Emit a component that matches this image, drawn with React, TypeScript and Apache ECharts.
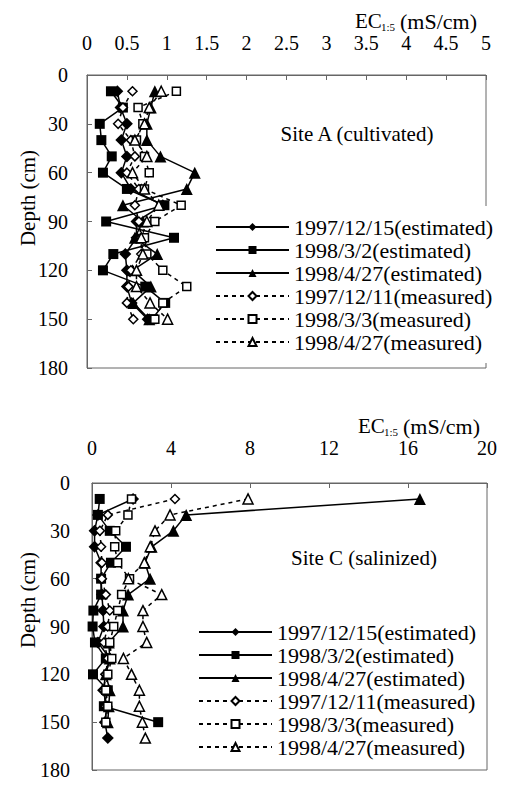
import React, { useEffect, useRef } from 'react';
import * as echarts from 'echarts';

const FONT = 'Liberation Serif';

const seriesNames = [
  '1997/12/15(estimated)',
  '1998/3/2(estimated)',
  '1998/4/27(estimated)',
  '1997/12/11(measured)',
  '1998/3/3(measured)',
  '1998/4/27(measured)',
];

// Site A (cultivated)
const depthsA = [10, 20, 30, 40, 50, 60, 70, 80, 90, 100, 110, 120, 130, 140, 150];
const aEst1215 = [0.38, 0.42, 0.5, 0.43, 0.5, 0.43, 0.55, 0.95, 0.62, 0.62, 0.48, 0.5, 0.5, 0.56, 0.76];
const aEst0302 = [0.3, 0.45, 0.16, 0.18, 0.31, 0.2, 0.5, 0.97, 0.24, 1.09, 0.33, 0.2, 0.73, 0.98, 0.81];
const aEst0427 = [0.85, 0.8, 0.75, 0.75, 0.92, 1.35, 1.25, 0.45, 0.7, 0.6, 0.88, 0.57, 0.8, 0.58, 0.78];
const aMea1211 = [0.57, 0.45, 0.39, 0.55, 0.6, 0.5, 0.65, 0.6, 0.65, 0.68, 0.68, 0.55, 0.52, 0.5, 0.58];
const aMea0303 = [1.12, 0.64, 0.7, 0.62, 0.72, 0.78, 0.72, 1.18, 0.85, 0.72, 0.75, 0.95, 1.25, 0.95, 0.85];
const aMea0427 = [0.93, 0.78, 0.72, 0.6, 0.75, 0.57, 0.72, 0.9, 0.75, 0.68, 0.7, 0.62, 0.62, 0.79, 1.01];

// Site C (salinized)
const depthsC = [10, 20, 30, 40, 50, 60, 70, 80, 90, 100, 110, 120, 130, 140, 150, 160];
const cEst1215 = [2.08, 0.3, 0.13, 0.13, 0.46, 0.46, 0.5, 0.56, 0.6, 0.3, 0.9, 0.7, 0.56, 0.75, 0.65, 0.8];
const cEst0302 = [0.39, 0.3, 0.9, 1.72, 0.96, 0.46, 0.46, 0.07, 0.03, 0.15, 0.7, 0.05, 0.8, 0.6, 3.35, null];
const cEst0427 = [16.6, 4.77, 4.12, 3.02, 2.68, 2.94, 1.83, 1.57, 1.57, 0.85, 0.9, 0.7, 0.9, 0.85, 0.8, null];
const cMea1211 = [4.2, 0.8, 0.4, 0.46, 0.5, 0.5, 0.7, 0.9, 0.8, 0.6, 0.8, 0.7, 0.6, 0.7, 0.7, null];
const cMea0303 = [2.0, 1.82, 1.2, 1.15, 1.3, 1.9, 1.5, 1.3, 1.1, 0.9, 1.0, 0.8, 0.7, 0.8, 0.7, null];
const cMea0427 = [7.9, 3.95, 3.19, 2.95, 2.65, 1.84, 3.53, 2.58, 2.58, 2.77, 1.59, 2.0, 2.4, 2.4, 2.55, 2.7];

const xMaxA = 5;
const xStepA = 0.5;
const xMaxC = 20;
const xStepC = 4;
const depthMax = 180;
const depthStep = 30;

const markerStyles = [
  { symbol: 'diamond', size: 12, hollow: false, dashed: false },
  { symbol: 'rect', size: 10, hollow: false, dashed: false },
  { symbol: 'triangle', size: 12, hollow: false, dashed: false },
  { symbol: 'diamond', size: 9, hollow: true, dashed: true },
  { symbol: 'rect', size: 8, hollow: true, dashed: true },
  { symbol: 'triangle', size: 10, hollow: true, dashed: true },
];

function makeSeries(values: (number | null)[][], depths: number[], gridIdx: number) {
  return values.map((vals, k) => {
    const st = markerStyles[k];
    const data: number[][] = [];
    depths.forEach((d, i) => {
      const v = vals[i];
      if (v !== null && v !== undefined) data.push([v, d]);
    });
    return {
      type: 'line',
      name: seriesNames[k],
      xAxisIndex: gridIdx,
      yAxisIndex: gridIdx,
      data,
      symbol: st.symbol,
      symbolSize: st.size,
      showSymbol: true,
      clip: false,
      lineStyle: { color: '#000', width: 1.5, type: st.dashed ? [4, 4] : 'solid' },
      itemStyle: st.hollow
        ? { color: '#fff', borderColor: '#000', borderWidth: 1.5 }
        : { color: '#000', borderColor: '#000', borderWidth: 0 },
      z: 3,
    };
  });
}

const labelStyle = { color: '#000', fontFamily: FONT, fontSize: 20 };

function xAxisCfg(gridIndex: number, max: number, step: number, margin: number) {
  return {
    gridIndex,
    type: 'value',
    position: 'top',
    min: 0,
    max,
    interval: step,
    axisLine: { show: true, lineStyle: { color: '#666', width: 1 } },
    axisTick: { show: true, inside: true, length: 5, lineStyle: { color: '#666' } },
    axisLabel: { margin, ...labelStyle },
    splitLine: { show: false },
  };
}

function yAxisCfg(gridIndex: number, margin: number) {
  return {
    gridIndex,
    type: 'value',
    inverse: true,
    min: 0,
    max: depthMax,
    interval: depthStep,
    axisLine: { show: true, lineStyle: { color: '#666', width: 1 } },
    axisTick: { show: true, inside: true, length: 5, lineStyle: { color: '#666' } },
    axisLabel: { margin, ...labelStyle },
    splitLine: { show: false },
  };
}

function legendCfg(left: number, top: number, gap: number) {
  return {
    data: seriesNames,
    orient: 'vertical',
    left,
    top,
    itemWidth: 73,
    itemHeight: 10,
    itemGap: gap,
    padding: [10, 4, 10, 4],
    backgroundColor: '#fff',
    selectedMode: false,
    textStyle: { fontFamily: FONT, fontSize: 22, color: '#000', lineHeight: 20 },
    z: 10,
  };
}

function unitLabel(x: number, y: number) {
  return [
    { type: 'text', x, y, style: { text: 'EC', fontFamily: FONT, fontSize: 21, fill: '#000', verticalAlign: 'middle' } },
    { type: 'text', x: x + 26, y: y + 6, style: { text: '1:5', fontFamily: FONT, fontSize: 11, fill: '#000', verticalAlign: 'middle' } },
    { type: 'text', x: x + 45, y, style: { text: '(mS/cm)', fontFamily: FONT, fontSize: 22, fill: '#000', verticalAlign: 'middle' } },
  ];
}

const option = {
  animation: false,
  backgroundColor: '#fff',
  textStyle: { fontFamily: FONT, color: '#000' },
  grid: [
    { left: 87, top: 75, width: 399, height: 293, show: true, borderColor: '#666', borderWidth: 1, backgroundColor: 'transparent' },
    { left: 92, top: 483, width: 395, height: 287, show: true, borderColor: '#666', borderWidth: 1, backgroundColor: 'transparent' },
  ],
  xAxis: [xAxisCfg(0, xMaxA, xStepA, 22), xAxisCfg(1, xMaxC, xStepC, 25)],
  yAxis: [yAxisCfg(0, 19), yAxisCfg(1, 22)],
  legend: [legendCfg(211, 206, 1), legendCfg(194, 611, 1)],
  graphic: [
    ...unitLabel(355, 21),
    ...unitLabel(358, 426),
    { type: 'text', x: 28, y: 198, rotation: Math.PI / 2, style: { text: 'Depth (cm)', fontFamily: FONT, fontSize: 21, fill: '#000', align: 'center', verticalAlign: 'middle' } },
    { type: 'text', x: 28, y: 600, rotation: Math.PI / 2, style: { text: 'Depth (cm)', fontFamily: FONT, fontSize: 21, fill: '#000', align: 'center', verticalAlign: 'middle' } },
    { type: 'text', x: 357, y: 134, style: { text: 'Site A (cultivated)', fontFamily: FONT, fontSize: 21, fill: '#000', align: 'center', verticalAlign: 'middle' } },
    { type: 'text', x: 364, y: 558, style: { text: 'Site C (salinized)', fontFamily: FONT, fontSize: 21, fill: '#000', align: 'center', verticalAlign: 'middle' } },
  ],
  series: [
    ...makeSeries([aEst1215, aEst0302, aEst0427, aMea1211, aMea0303, aMea0427], depthsA, 0),
    ...makeSeries([cEst1215, cEst0302, cEst0427, cMea1211, cMea0303, cMea0427], depthsC, 1),
  ],
};

export default function App() {
  const ref = useRef<HTMLDivElement>(null);
  useEffect(() => {
    document.body.style.margin = '0';
    const chart = echarts.init(ref.current as HTMLDivElement, null, { renderer: 'svg' });
    chart.setOption(option as any);
    return () => chart.dispose();
  }, []);
  return <div ref={ref} style={{ width: 508, height: 785 }} />;
}
